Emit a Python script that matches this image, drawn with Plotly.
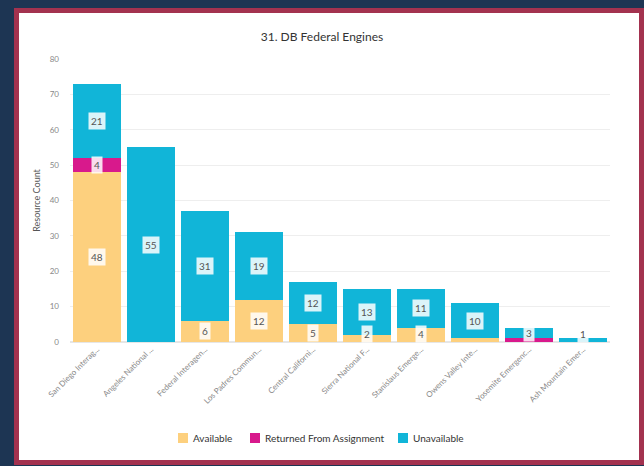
import plotly.graph_objects as go

categories = ["San Diego Interag...", "Angeles National ...", "Federal Interagen...",
              "Los Padres Commun...", "Central Californi...", "Sierra National F...",
              "Stanislaus Emerge...", "Owens Valley Inte...", "Yosemite Emergenc...",
              "Ash Mountain Emer..."]
available = [48, 0, 6, 12, 5, 2, 4, 1, 0, 0]
returned = [4, 0, 0, 0, 0, 0, 0, 0, 1, 0]
unavailable = [21, 55, 31, 19, 12, 13, 11, 10, 3, 1]

series = [("Available", available, "#FDD07E"),
          ("Returned From Assignment", returned, "#D8198C"),
          ("Unavailable", unavailable, "#11B5D8")]

L, R, T, B = 70, 34, 59, 124
W, H = 644, 466
PW, PH = W - L - R, H - T - B


def px(x):
    return (x - L) / PW


def py(y):
    return (H - B - y) / PH


fig = go.Figure()
for name, vals, col in series:
    fig.add_trace(go.Bar(x=categories, y=vals, name=name, marker_color=col,
                         marker_line_width=0, hoverinfo="skip", showlegend=False))

# segment labels
annotations = []
for i, cat in enumerate(categories):
    base = 0
    nseg = sum(1 for _, v, _ in series if v[i] > 0)
    for name, vals, col in series:
        v = vals[i]
        if v <= 0:
            continue
        center = base + v / 2
        base += v
        if v == 1 and nseg > 1:
            continue
        annotations.append(dict(x=cat, y=max(center, 2.2), xref="x", yref="y",
                                text=str(v), showarrow=False,
                                font=dict(family="Lato", size=10, color="#555555"),
                                bgcolor="rgba(255,255,255,0.85)", borderpad=2))

# custom legend (square + label)
shapes = [dict(type="rect", xref="paper", yref="paper", layer="below",
               x0=px(16.5), x1=px(641.5), y0=py(462.5), y1=py(10.5),
               fillcolor="white", line=dict(color="#A3324F", width=5))]
legend_x = [178, 250, 398]
for (name, vals, col), lx in zip(series, legend_x):
    shapes.append(dict(type="rect", xref="paper", yref="paper",
                       x0=px(lx), x1=px(lx + 10), y0=py(443), y1=py(433),
                       fillcolor=col, line=dict(width=0)))
    annotations.append(dict(x=px(lx + 13), y=py(438), xref="paper", yref="paper",
                            xanchor="left", yanchor="middle", text=name, showarrow=False,
                            font=dict(family="Lato", size=10, color="#333333")))

fig.update_layout(
    width=W, height=H,
    margin=dict(l=L, r=R, t=T, b=B),
    paper_bgcolor="#1d3553",
    plot_bgcolor="white",
    barmode="stack",
    bargap=0.1,
    showlegend=False,
    font=dict(family="Lato", color="#666666"),
    title=dict(text="31. DB Federal Engines", x=0.5, xanchor="center",
               y=1 - 37 / H, yanchor="middle",
               font=dict(family="Lato", size=12, color="#333333")),
    xaxis=dict(tickangle=-45, tickfont=dict(size=8, color="#888888"),
               showgrid=False, showline=False, ticks=""),
    yaxis=dict(range=[0, 80], dtick=10, gridcolor="#EEEEEE", gridwidth=1,
               zeroline=True, zerolinecolor="#E6E6E6",
               tickfont=dict(size=8, color="#888888"), ticks="",
               ticklabelstandoff=10,
               title=dict(text="Resource Count", standoff=7,
                          font=dict(size=9, color="#555555"))),
    annotations=annotations,
    shapes=shapes,
)

fig.write_html("out.html", config={"displayModeBar": False},
               post_script="document.body.style.margin='0';document.body.style.overflow='hidden';")
